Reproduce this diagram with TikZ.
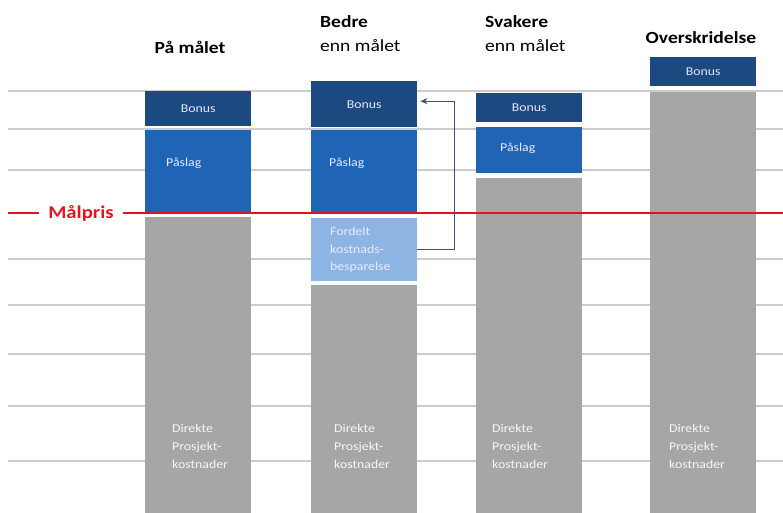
\documentclass[tikz,border=0pt]{standalone}
\usepackage{fontspec}
\setmainfont{Carlito}[FakeStretch=1.15]
\usetikzlibrary{positioning, arrows.meta}

\definecolor{bonusblue}{HTML}{1C4A80}
\definecolor{markupblue}{HTML}{1F64B5}
\definecolor{savingblue}{HTML}{8DB4E2}
\definecolor{costgray}{HTML}{A6A6A6}
\definecolor{targetred}{HTML}{E3141E}
\definecolor{arrowslate}{HTML}{3F5270}

\begin{document}
\begin{tikzpicture}[
  x=1pt, y=-1pt,
  grid/.style={draw=gray!40, line width=1.3pt},
  seg/.style={anchor=north west, inner sep=0pt, minimum width=106pt,
              text=white, font=\fontsize{12}{14}\selectfont},
  bonus/.style={seg, fill=bonusblue, text=white!90!blue},
  markup/.style={seg, fill=markupblue},
  saving/.style={seg, fill=savingblue},
  cost/.style={seg, fill=costgray},
  lbl/.style={inner sep=0pt, anchor=west, align=left, text=white!92!blue,
              font=\fontsize{12}{17.5}\selectfont},
  clbl/.style={lbl, text=white!94!gray, font=\fontsize{12}{18}\selectfont},
  head/.style={inner sep=0pt, align=left, font=\fontsize{17}{24}\selectfont},
  redline/.style={draw=targetred, line width=2.2pt},
  arr/.style={-{Stealth[length=7pt, width=6pt]}, draw=arrowslate, line width=1.3pt},
]
\useasboundingbox (0,0) rectangle (783,513);

% --- Grid ---
\foreach \y in {91,129,170,259,305,354,406,461}
  \draw[grid] (8,\y) -- (783,\y);

% --- Headers ---
\node[head, font=\fontsize{17}{24}\selectfont\bfseries] (h1) at (190,47) {På målet};
\node[head, anchor=west] (h2) at (320,34) {\textbf{Bedre}\\enn målet};
\node[head, anchor=west] (h3) at (485,34) {\textbf{Svakere}\\enn målet};
\node[head, font=\fontsize{17}{24}\selectfont\bfseries] (h4) at (701,38) {Overskridelse};

% --- På målet ---
\node[bonus, minimum height=35pt] (b1) at (145,91) {Bonus};
\node[markup, minimum height=83pt] (p1) at (145,130) {};
\node[cost, minimum height=296pt] (c1) at (145,217) {};

% --- Bedre enn målet ---
\node[bonus, minimum height=46pt] (b2) at (311,81) {Bonus};
\node[markup, minimum height=83pt] (p2) at (311,130) {};
\node[saving, minimum height=63pt] (f2) at (311,218) {};
\node[cost, minimum height=228pt] (c2) at (311,285) {};

% --- Svakere enn målet ---
\node[bonus, minimum height=29pt] (b3) at (476,93) {Bonus};
\node[markup, minimum height=46pt] (p3) at (476,127) {};
\node[cost, minimum height=335pt] (c3) at (476,178) {};

% --- Overskridelse ---
\node[bonus, minimum height=29pt] (b4) at (650,57) {Bonus};
\node[cost, minimum height=421pt] (c4) at (650,92) {};

% --- Labels in the bars ---
\node[lbl] (pl1) at (166,163) {Påslag};
\node[lbl] (pl2) at (329,163) {Påslag};
\node[lbl] (pl3) at (500,148) {Påslag};
\node[lbl] (fl2) at (330,250) {Fordelt\\kostnads-\\besparelse};
\node[clbl] (cl1) at (172,446) {Direkte\\Prosjekt-\\kostnader};
\node[clbl] (cl2) at (334,446) {Direkte\\Prosjekt-\\kostnader};
\node[clbl] (cl3) at (492,446) {Direkte\\Prosjekt-\\kostnader};
\node[clbl] (cl4) at (669,446) {Direkte\\Prosjekt-\\kostnader};

% --- Target price ---
\node[inner xsep=9pt, inner ysep=0pt, text=targetred,
      font=\fontsize{18}{20}\selectfont\bfseries] (mp) at (81,213) {Målpris};
\draw[redline] (8,213) -- (mp.west);
\draw[redline] (mp.east) -- (783,213);

% --- Saving goes to bonus ---
\draw[arr, shorten >=3pt] (f2.east) -- ++(37,0) |- ([yshift=3pt]b2.east);

\end{tikzpicture}
\end{document}
